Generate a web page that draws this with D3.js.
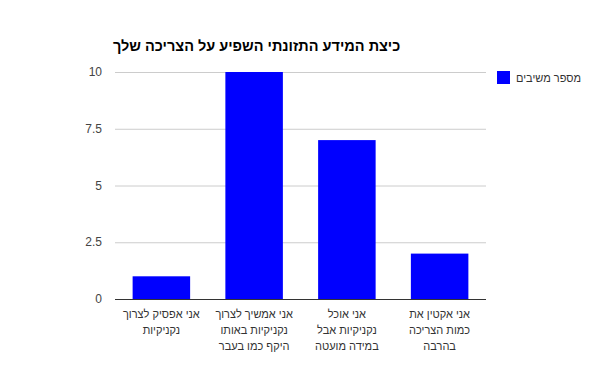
<!DOCTYPE html>
<html>
<head>
<meta charset="utf-8">
<script src="https://cdn.jsdelivr.net/npm/d3@7"></script>
<style>
  body { margin: 0; background: #fff; }
  svg { font-family: Arial, "Liberation Sans", sans-serif; }
</style>
</head>
<body>
<svg width="600" height="371"></svg>
<script>
// data
const categories = [
  ["אני אפסיק לצרוך", "נקניקיות"],
  ["אני אמשיך לצרוך", "נקניקיות באותו", "היקף כמו בעבר"],
  ["אני אוכל", "נקניקיות אבל", "במידה מועטה"],
  ["אני אקטין את", "כמות הצריכה", "בהרבה"]
];
const values = [1, 10, 7, 2];
const yTicks = [0, 2.5, 5, 7.5, 10];
const title = "כיצת המידע התזונתי השפיע על הצריכה שלך";
const seriesName = "מספר משיבים";

const svg = d3.select("svg");
const plotLeft = 115, plotRight = 486, plotTop = 72, plotBottom = 299;

const x = d3.scaleBand().domain(d3.range(categories.length)).range([plotLeft, plotRight]).paddingInner(0.38).paddingOuter(0.19);
const y = d3.scaleLinear().domain([0, 10]).range([plotBottom, plotTop]);

// title
svg.append("text")
  .attr("x", 113).attr("y", 51)
  .attr("font-size", 14.5).attr("font-weight", "bold").attr("fill", "#000")
  .text(title);

// gridlines
svg.selectAll("line.grid")
  .data(yTicks.filter(d => d > 0))
  .enter().append("line")
  .attr("class", "grid")
  .attr("x1", plotLeft).attr("x2", plotRight)
  .attr("y1", d => y(d) + 0.5).attr("y2", d => y(d) + 0.5)
  .attr("stroke", "#ccc");

// y labels
svg.selectAll("text.ytick")
  .data(yTicks)
  .enter().append("text")
  .attr("class", "ytick")
  .attr("x", 102).attr("y", d => y(d) + 4)
  .attr("text-anchor", "end")
  .attr("font-size", 12).attr("fill", "#444")
  .text(d => d);

// bars
svg.selectAll("rect.bar")
  .data(values)
  .enter().append("rect")
  .attr("class", "bar")
  .attr("x", (d, i) => x(i))
  .attr("width", x.bandwidth())
  .attr("y", d => y(d))
  .attr("height", d => y(0) - y(d))
  .attr("fill", "#0000ff");

// baseline
svg.append("line")
  .attr("x1", plotLeft).attr("x2", plotRight)
  .attr("y1", plotBottom + 0.5).attr("y2", plotBottom + 0.5)
  .attr("stroke", "#333");

// category labels
const labels = svg.selectAll("text.cat")
  .data(categories)
  .enter().append("text")
  .attr("class", "cat")
  .attr("text-anchor", "middle")
  .attr("font-size", 11).attr("fill", "#333");
labels.each(function(lines, i) {
  const t = d3.select(this);
  lines.forEach((l, j) => {
    t.append("tspan")
      .attr("x", x(i) + x.bandwidth() / 2)
      .attr("y", 318 + j * 16)
      .text(l);
  });
});

// legend
svg.append("rect")
  .attr("x", 497).attr("y", 71).attr("width", 13).attr("height", 13)
  .attr("fill", "#0000ff");
svg.append("text")
  .attr("x", 516).attr("y", 82)
  .attr("font-size", 11).attr("fill", "#333")
  .text(seriesName);
</script>
</body>
</html>
